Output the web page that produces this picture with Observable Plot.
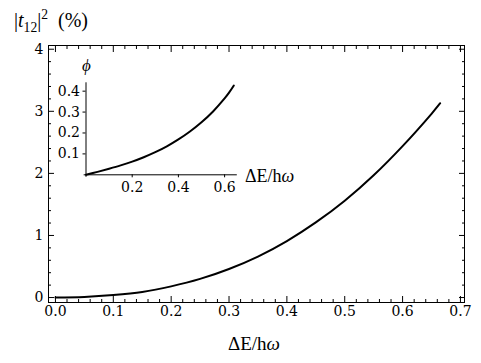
<!DOCTYPE html>
<html><head><meta charset="utf-8">
<script src="https://cdn.jsdelivr.net/npm/d3@7"></script>
<script src="https://cdn.jsdelivr.net/npm/@observablehq/plot@0.6"></script>
<style>
body{margin:0;background:#fff;}
#wrap{position:relative;width:481px;height:363px;font-family:"Liberation Serif","Times New Roman","DejaVu Serif","Noto Serif",serif;color:#000;}
#wrap svg{position:absolute;left:0;top:0;}
#wrap svg text{font-family:"DejaVu Serif","Liberation Serif","Times New Roman",serif;}
.lab{position:absolute;white-space:nowrap;line-height:1;}
.lab sub,.lab sup{font-size:0.68em;line-height:0;}
</style></head><body>
<div id="wrap"></div>
<script>
// main curve: |t12|^2 (%) vs ΔE/hω
const mainX = [0, 0.05, 0.1, 0.15, 0.2, 0.25, 0.3, 0.35, 0.4, 0.45, 0.5, 0.55, 0.6, 0.65, 0.665];
const mainY = [0, 0.01, 0.04, 0.09, 0.18, 0.30, 0.46, 0.66, 0.91, 1.21, 1.56, 1.97, 2.44, 2.96, 3.13];
// inset curve: phi vs ΔE/hω
const insetX = [0, 0.05, 0.1, 0.15, 0.2, 0.25, 0.3, 0.35, 0.4, 0.45, 0.5, 0.55, 0.6, 0.62, 0.64];
const insetY = [0, 0.014, 0.029, 0.045, 0.063, 0.084, 0.108, 0.136, 0.169, 0.207, 0.251, 0.303, 0.365, 0.394, 0.427];
// tick labels
const mainXTicks = [0, 0.1, 0.2, 0.3, 0.4, 0.5, 0.6, 0.7];
const mainYTicks = [0, 1, 2, 3, 4];
const insetXTicks = [0.2, 0.4, 0.6];
const insetYTicks = [0.1, 0.2, 0.3, 0.4];

const minorX = d3.range(0, 36).map(i => i * 0.02).filter((v, i) => i % 5 !== 0);
const minorY = d3.range(0, 21).map(i => i * 0.2).filter((v, i) => i % 5 !== 0);

const mainData = mainX.map((x, i) => ({x, y: mainY[i]}));
const insetData = insetX.map((x, i) => ({x, y: insetY[i]}));
const blank = () => "";
const st = {fontFamily: "'DejaVu Serif', 'Liberation Serif', serif", fontSize: "14px", color: "#000", background: "transparent", overflow: "visible"};

const main = Plot.plot({
  width: 481, height: 363,
  marginLeft: 48, marginRight: 17, marginTop: 45, marginBottom: 61,
  style: st,
  x: {domain: [-0.012, 0.707]},
  y: {domain: [-0.08, 4.06]},
  marks: [
    Plot.frame({stroke: "#000"}),
    Plot.axisX({ticks: mainXTicks, anchor: "bottom", tickSize: -6, tickPadding: 10, tickFormat: d3.format(".1f"), label: null}),
    Plot.axisX({ticks: minorX, anchor: "bottom", tickSize: -3, tickFormat: blank, label: null}),
    Plot.axisX({ticks: mainXTicks, anchor: "top", tickSize: -6, tickFormat: blank, label: null}),
    Plot.axisX({ticks: minorX, anchor: "top", tickSize: -3, tickFormat: blank, label: null}),
    Plot.axisY({ticks: mainYTicks, anchor: "left", tickSize: -6, tickPadding: 11, tickFormat: d3.format("d"), label: null}),
    Plot.axisY({ticks: minorY, anchor: "left", tickSize: -3, tickFormat: blank, label: null}),
    Plot.axisY({ticks: mainYTicks, anchor: "right", tickSize: -6, tickFormat: blank, label: null}),
    Plot.axisY({ticks: minorY, anchor: "right", tickSize: -3, tickFormat: blank, label: null}),
    Plot.line(mainData, {x: "x", y: "y", stroke: "#000", strokeWidth: 2, curve: "catmull-rom"})
  ]
});

const inset = Plot.plot({
  width: 481, height: 363,
  marginLeft: 85.5, marginRight: 244.2, marginTop: 82.3, marginBottom: 188.7,
  style: st,
  x: {domain: [0, 0.655]},
  y: {domain: [0, 0.44]},
  marks: [
    Plot.ruleY([0], {x1: -0.008, x2: 0.655, stroke: "#000"}),
    Plot.ruleX([0], {y1: -0.012, y2: 0.44, stroke: "#000"}),
    Plot.axisX({ticks: insetXTicks, anchor: "bottom", tickSize: 3, tickPadding: 4, tickFormat: d3.format(".1f"), label: null}),
    Plot.axisY({ticks: insetYTicks, anchor: "left", tickSize: 3, tickPadding: 3, tickFormat: d3.format(".1f"), label: null}),
    Plot.line(insetData, {x: "x", y: "y", stroke: "#000", strokeWidth: 2, curve: "catmull-rom"})
  ]
});

const wrap = document.getElementById("wrap");
wrap.appendChild(main);
wrap.appendChild(inset);

function addLabel(html, left, top, size) {
  const d = document.createElement("div");
  d.className = "lab";
  d.style.left = left + "px";
  d.style.top = top + "px";
  d.style.fontSize = size + "px";
  d.innerHTML = html;
  wrap.appendChild(d);
}
addLabel("|<i>t</i><sub>12</sub>|<sup>2</sup>&nbsp;&nbsp;(%)", 14, 10, 20);
addLabel("ΔE/h<i>ω</i>", 228, 334, 19);
addLabel("ΔE/h<i>ω</i>", 245, 167, 18);
addLabel("<i>ϕ</i>", 82, 57, 17);
</script>
</body></html>
